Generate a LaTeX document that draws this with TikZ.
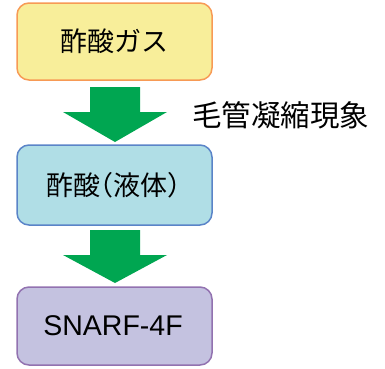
\documentclass[tikz,border=0pt]{standalone}
\usepackage{fontspec}
\setmainfont{Liberation Sans}
\newfontfamily\cjk{Noto Sans CJK JP}
\newfontfamily\cjkp[RawFeature=+halt]{Noto Sans CJK JP}
\begin{document}
\begin{tikzpicture}[x=1pt,y=-1pt,
  box/.style={rounded corners=12pt,line width=1.5pt},
  bigarrow/.style={fill=arrowgreen,draw=none},
  lbl/.style={font=\cjk\fontsize{27}{30}\selectfont,text=black}]
\definecolor{arrowgreen}{HTML}{00A651}
\definecolor{yfill}{HTML}{F8EE9A}
\definecolor{ydraw}{HTML}{F79A55}
\definecolor{bfill}{HTML}{B0DEE6}
\definecolor{bdraw}{HTML}{5A84C8}
\definecolor{pfill}{HTML}{C4C2E0}
\definecolor{pdraw}{HTML}{9272B0}
\useasboundingbox (0,0) rectangle (385,368);
\draw[box,fill=yfill,draw=ydraw] (17,3) rectangle (212,80);
\node[lbl] (t1) at (114.5,41.5) {酢酸ガス};
\draw[box,fill=bfill,draw=bdraw] (17,145) rectangle (212,225);
\node[lbl,font=\cjkp\fontsize{27}{30}\selectfont] (t2) at (113.5,185) {酢酸（液体）};
\draw[box,fill=pfill,draw=pdraw] (17,287) rectangle (212,365);
\node[font=\fontsize{28.5}{30}\selectfont] (t3) at (113,326) {SNARF-4F};
\fill[bigarrow] (90,87) -- (140,87) -- (140,112) -- (167,112) -- (115,142) -- (63,112) -- (90,112) -- cycle;
\fill[bigarrow] (90,230) -- (140,230) -- (140,255) -- (167,255) -- (115,283) -- (63,255) -- (90,255) -- cycle;
\node[lbl,font=\cjk\fontsize{29.5}{32}\selectfont,anchor=west,inner sep=0pt] (l) at (192,115) {毛管凝縮現象};
\end{tikzpicture}
\end{document}
